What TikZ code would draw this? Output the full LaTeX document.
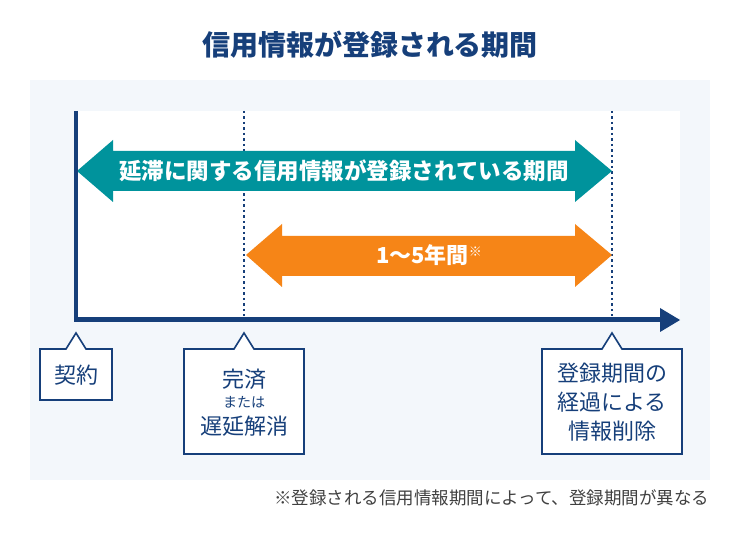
\documentclass[tikz,border=0pt]{standalone}
\usepackage{fontspec}
\setmainfont{Noto Sans CJK JP}
\begin{document}
\begin{tikzpicture}[x=1pt,y=-1pt,
  lbl/.style={text=axisnavy,font=\fontsize{22}{28}\selectfont,align=center},
  call/.style={draw=axisnavy,line width=1.6pt,fill=white,line join=miter}]
\definecolor{axisnavy}{HTML}{163F7A}
\definecolor{panel}{HTML}{F3F7FB}
\definecolor{teal}{HTML}{00939C}
\definecolor{orng}{HTML}{F68517}
\useasboundingbox (0,0) rectangle (740,537);
\fill[panel] (30,80) rectangle (710,480);
\fill[white] (76,111) rectangle (680,318);
\node[text=axisnavy,font=\fontsize{28}{32}\selectfont\bfseries] (title) at (370,45) {信用情報が登録される期間};
% dotted lines
\coordinate (d1t) at (244,111); \coordinate (d1b) at (244,316);
\coordinate (d2t) at (612,111); \coordinate (d2b) at (612,316);
\draw[axisnavy,line width=2.5pt,dash pattern=on 2.5pt off 3pt] (d1t) -- (d1b);
\draw[axisnavy,line width=2.5pt,dash pattern=on 2.5pt off 3pt] (d2t) -- (d2b);
% teal arrow
\fill[teal] (77,171) -- (113,140) -- (113,151) -- (575,151) -- (575,140) -- (612,171) -- (575,202) -- (575,191) -- (113,191) -- (113,202) -- cycle;
\node[text=white,font=\fontsize{22.5}{26}\selectfont\bfseries] (t1) at (344,171) {延滞に関する信用情報が登録されている期間};
% orange arrow
\fill[orng] (246,255) -- (282,224) -- (282,236) -- (575,236) -- (575,224) -- (612,255) -- (575,287) -- (575,276) -- (282,276) -- (282,287) -- cycle;
\node[text=white,font=\fontsize{22}{26}\selectfont\bfseries] (t2) at (429,255) {1～5年間\raisebox{0.6ex}{\fontsize{13}{13}\selectfont ※}};
% axes
\coordinate (o) at (76,320); \coordinate (top) at (76,111); \coordinate (xe) at (662,320);
\draw[axisnavy,line width=4pt] (top) -- (76,322);
\draw[axisnavy,line width=5pt] (74,320) -- (xe);
\fill[axisnavy] (660,308) -- (680,320) -- (660,332) -- cycle;
% callouts
\draw[call] (40,349) -- (66,349) -- (76,333) -- (86,349) -- (112,349) -- (112,400) -- (40,400) -- cycle;
\node[lbl] (c1) at (76,375) {契約};
\draw[call] (184,349) -- (234,349) -- (244,333) -- (254,349) -- (304,349) -- (304,454) -- (184,454) -- cycle;
\node[lbl] (c2a) at (244,379) {完済};
\node[text=axisnavy,font=\fontsize{14}{16}\selectfont] (c2b) at (244,402) {または};
\node[lbl] (c2c) at (244,426) {遅延解消};
\draw[call] (542,349) -- (602,349) -- (612,333) -- (622,349) -- (682,349) -- (682,454) -- (542,454) -- cycle;
\node[lbl,font=\fontsize{22}{29}\selectfont] (c3) at (612,402) {登録期間の\\経過による\\情報削除};
\node[anchor=east,text=black!75,font=\fontsize{17.5}{20}\selectfont] (fn) at (713,498) {※登録される信用情報期間によって、登録期間が異なる};
\end{tikzpicture}
\end{document}
